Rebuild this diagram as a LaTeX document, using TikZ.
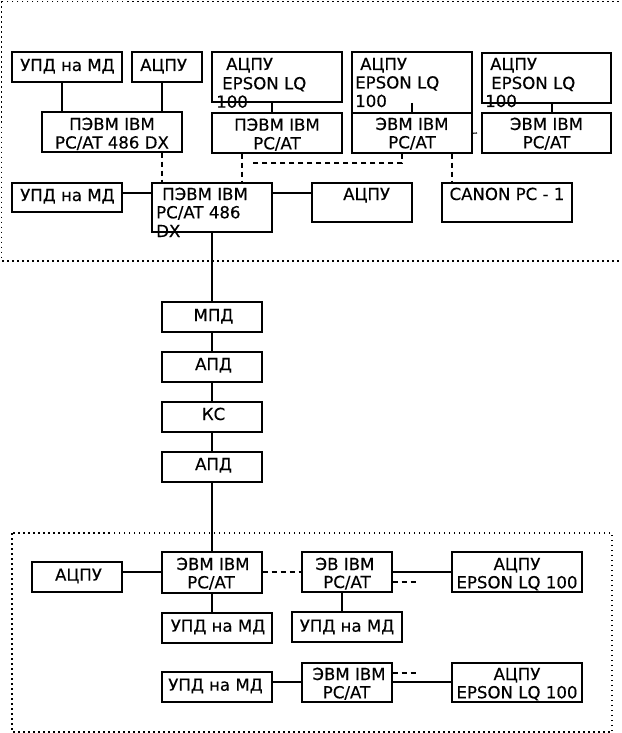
\documentclass[tikz,border=0pt]{standalone}
\usepackage{fontspec}
\setmainfont{DejaVu Sans}[FakeBold=0.35]
\newfontfamily\dvfont{DejaVu Sans}[FakeBold=0.35]
\begin{document}
\begin{tikzpicture}[x=1pt,y=-1pt,
  box/.style={draw=black,line width=1.1pt,inner sep=0pt,rectangle},
  tx/.style={inner sep=0pt,anchor=base,font=\dvfont\fontsize{16.6}{19}\selectfont},
  txl/.style={tx,anchor=base west},
  conn/.style={draw=black,line width=1.1pt},
  dconn/.style={conn,dash pattern=on 5.5pt off 3.5pt},
  frame/.style={draw=black,line width=1.1pt,dash pattern=on 1.5pt off 3.5pt}]
\useasboundingbox (0,0) rectangle (621,733);
% frames
\draw[frame] (1.5,1.5) rectangle (623,261);
\draw[frame] (12,533) rectangle (612,732);
% ---------- top section boxes
\node[box,minimum width=110pt,minimum height=30pt] (u1) at (67,67) {};
\node[box,minimum width=70pt,minimum height=30pt] (a1) at (167,67) {};
\node[box,minimum width=140pt,minimum height=40pt] (p1) at (112,132) {};
\node[box,minimum width=110pt,minimum height=29pt] (u2) at (67,197.5) {};
\node[box,minimum width=120pt,minimum height=49pt] (p0) at (212,207.5) {};
\node[box,minimum width=130pt,minimum height=50pt] (e2) at (277,77) {};
\node[box,minimum width=130pt,minimum height=40pt] (p2) at (277,133) {};
\node[box,minimum width=120pt,minimum height=60.5pt] (e3) at (412,82.25) {};
\node[box,minimum width=120pt,minimum height=39.5pt] (p3) at (412,133.25) {};
\node[box,minimum width=129pt,minimum height=50pt] (e4) at (546.5,78) {};
\node[box,minimum width=129pt,minimum height=40pt] (p4) at (546.5,133) {};
\node[box,minimum width=100pt,minimum height=39pt] (a2) at (362,202.5) {};
\node[box,minimum width=130pt,minimum height=39pt] (cn) at (507,202.5) {};
% ---------- middle chain
\node[box,minimum width=100pt,minimum height=30pt] (m1) at (212,317) {};
\node[box,minimum width=100pt,minimum height=30pt] (ad1) at (212,367) {};
\node[box,minimum width=100pt,minimum height=30pt] (ks) at (212,417) {};
\node[box,minimum width=100pt,minimum height=30pt] (ad2) at (212,467) {};
% ---------- bottom section boxes
\node[box,minimum width=90pt,minimum height=30pt] (ba) at (77,577) {};
\node[box,minimum width=100pt,minimum height=41pt] (be1) at (212,572.5) {};
\node[box,minimum width=110pt,minimum height=30pt] (bu1) at (217,628) {};
\node[box,minimum width=90pt,minimum height=40pt] (bev) at (347,572) {};
\node[box,minimum width=130pt,minimum height=40pt] (bp1) at (517,572) {};
\node[box,minimum width=110pt,minimum height=30pt] (bu2) at (347,627) {};
\node[box,minimum width=110pt,minimum height=30pt] (bu3) at (217,687) {};
\node[box,minimum width=90pt,minimum height=39pt] (be2) at (347,682.5) {};
\node[box,minimum width=130pt,minimum height=39pt] (bp2) at (517,682.5) {};
% ---------- texts top
\node[txl] (t1) at (20,71) {УПД на МД};
\node[txl] (t2) at (140,71) {АЦПУ};
\node[tx] (t3) at (112,130) {ПЭВМ IBM};
\node[tx] (t4) at (112,148.5) {PC/AT 486 DX};
\node[txl] (t5) at (20,201) {УПД на МД};
\node[txl] (t6) at (162,200) {ПЭВМ IBM};
\node[txl] (t7) at (156,218.3) {PC/AT 486};
\node[txl] (t8) at (156,237) {DX};
\node[txl] (t9) at (226,70) {АЦПУ};
\node[txl] (t10) at (222,89.3) {EPSON LQ};
\node[txl] (t11) at (216,107.7) {100};
\node[tx] (t12) at (277,130.7) {ПЭВМ IBM};
\node[tx] (t13) at (277,149.3) {PC/AT};
\node[txl] (t14) at (360,70) {АЦПУ};
\node[txl] (t15) at (355,88.5) {EPSON LQ};
\node[txl] (t16) at (355,107) {100};
\node[tx] (t17) at (412,130) {ЭВМ IBM};
\node[tx] (t18) at (412,148.3) {PC/AT};
\node[txl] (t19) at (490,70) {АЦПУ};
\node[txl] (t20) at (491,89) {EPSON LQ};
\node[txl] (t21) at (485,107) {100};
\node[tx] (t22) at (546.5,130) {ЭВМ IBM};
\node[tx] (t23) at (546.5,148.3) {PC/AT};
\node[txl] (t24) at (343,200) {АЦПУ};
\node[tx] (t25) at (507,200) {CANON PC - 1};
% ---------- texts middle
\node[tx] (t26) at (213.5,321) {МПД};
\node[tx] (t27) at (213.5,370) {АПД};
\node[tx] (t28) at (213.5,420) {КС};
\node[tx] (t29) at (213.5,470) {АПД};
% ---------- texts bottom
\node[tx] (t30) at (78.5,580.7) {АЦПУ};
\node[tx] (t31) at (213,570) {ЭВМ IBM};
\node[tx] (t32) at (211,588.3) {PC/AT};
\node[tx] (t33) at (218,631.7) {УПД на МД};
\node[tx] (t34) at (215.5,690.7) {УПД на МД};
\node[tx] (t35) at (345,570) {ЭВ IBM};
\node[tx] (t36) at (347,588) {PC/AT};
\node[tx] (t37) at (517,570) {АЦПУ};
\node[tx] (t38) at (517,588.3) {EPSON LQ 100};
\node[tx] (t39) at (347,631.7) {УПД на МД};
\node[tx] (t40) at (349,680) {ЭВМ IBM};
\node[tx] (t41) at (346.5,698.3) {PC/AT};
\node[tx] (t42) at (517,680) {АЦПУ};
\node[tx] (t43) at (517,698.3) {EPSON LQ 100};
% ---------- free ends
\coordinate (dend) at (251,163);
\coordinate (tick3) at (412,103);
\coordinate (stub3) at (477,133);
\coordinate (dvend) at (418,582);
\coordinate (dvend2) at (418,673);
% ---------- connectors top
\draw[conn] (u1.south -| 62,0) -- (p1.north -| 62,0);
\draw[conn] (a1.south -| 162,0) -- (p1.north -| 162,0);
\draw[dconn] (p1.south -| 162,0) -- (p0.north -| 162,0);
\draw[conn] (u2.east |- 0,193) -- (p0.west |- 0,193);
\draw[conn] (p0.east |- 0,193) -- (a2.west |- 0,193);
\draw[conn] (e2.south -| 272,0) -- (p2.north -| 272,0);
\draw[dconn] (p2.south -| 242,0) -- (p0.north -| 242,0);
\draw[dconn] (p3.south -| 402,0) |- (dend);
\draw[conn] (tick3) -- (p3.north);
\draw[conn] (p3.east) -- (stub3);
\draw[conn] (e4.south -| 552,0) -- (p4.north -| 552,0);
\draw[dconn] (p3.south -| 452,0) -- (cn.north -| 452,0);
% ---------- middle chain
\draw[conn] (p0.south) -- (m1.north);
\draw[conn] (m1.south) -- (ad1.north);
\draw[conn] (ad1.south) -- (ks.north);
\draw[conn] (ks.south) -- (ad2.north);
\draw[conn] (ad2.south) -- (be1.north);
% ---------- connectors bottom
\draw[conn] (ba.east |- 0,572) -- (be1.west |- 0,572);
\draw[dconn] (be1.east |- 0,572) -- (bev.west |- 0,572);
\draw[conn] (be1.south) -- (bu1.north -| be1.south);
\draw[conn] (bev.east |- 0,572) -- (bp1.west |- 0,572);
\draw[dconn] (bev.east |- 0,582) -- (dvend);
\draw[conn] (bev.south -| 342,0) -- (bu2.north -| 342,0);
\draw[conn] (bu3.east |- 0,682) -- (be2.west |- 0,682);
\draw[dconn] (be2.east |- 0,673) -- (dvend2);
\draw[conn] (be2.east |- 0,682) -- (bp2.west |- 0,682);
\end{tikzpicture}
\end{document}
